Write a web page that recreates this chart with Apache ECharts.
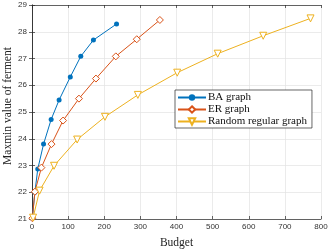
<!DOCTYPE html>
<html><head><meta charset="utf-8">
<script src="https://cdn.jsdelivr.net/npm/echarts@6/dist/echarts.min.js"></script>
<style>html,body{margin:0;padding:0;background:#fff}#c{width:332px;height:249px}</style>
</head><body><div id="c"></div>
<script>
var baX = [1, 8, 16, 32, 53, 75, 106, 135, 170, 234];
var baY = [21.03, 22.0, 22.87, 23.8, 24.72, 25.45, 26.31, 27.08, 27.69, 28.29];
var erX = [1, 8, 26, 54, 86, 130, 177, 232, 290, 354];
var erY = [21.03, 22.02, 22.92, 23.8, 24.68, 25.5, 26.25, 27.08, 27.72, 28.44];
var rrX = [3, 21, 61, 125, 202, 293, 402, 514, 640, 771];
var rrY = [21.05, 22.06, 22.99, 23.97, 24.82, 25.64, 26.47, 27.18, 27.85, 28.5];
var names = ['BA graph', 'ER graph', 'Random regular graph'];
var xTicks = [0, 100, 200, 300, 400, 500, 600, 700, 800];
var yTicks = [21, 22, 23, 24, 25, 26, 27, 28, 29];

function pairs(xs, ys) { return xs.map(function (x, i) { return [x, ys[i]]; }); }
var axisCol = '#262626';
var serif = 'Liberation Serif';
var chart = echarts.init(document.getElementById('c'), null, {renderer: 'canvas'});
var tickCommon = {inside: true, length: 3, lineStyle: {color: axisCol, width: 0.7}};
chart.setOption({
  animation: false,
  grid: {left: 32, right: 11, top: 5, bottom: 30, containLabel: false, outerBoundsMode: 'none'},
  xAxis: [{
    type: 'value', min: xTicks[0], max: xTicks[xTicks.length - 1], interval: 100,
    name: 'Budget', nameLocation: 'middle', nameGap: 18,
    nameTextStyle: {fontFamily: serif, fontSize: 11.5, color: '#222'},
    axisLine: {lineStyle: {color: axisCol, width: 0.7}},
    axisTick: tickCommon,
    axisLabel: {fontFamily: 'Liberation Sans', fontSize: 8, color: '#333', margin: 4},
    splitLine: {lineStyle: {color: '#e3e3e3', width: 0.7}}
  }, {
    type: 'value', position: 'top', min: 0, max: 800, interval: 100,
    axisLine: {show: true, lineStyle: {color: axisCol, width: 0.7}},
    axisTick: tickCommon, axisLabel: {show: false}, splitLine: {show: false}
  }],
  yAxis: [{
    type: 'value', min: yTicks[0], max: yTicks[yTicks.length - 1], interval: 1,
    axisLine: {show: true, lineStyle: {color: axisCol, width: 0.7}},
    axisTick: tickCommon,
    axisLabel: {fontFamily: 'Liberation Sans', fontSize: 8, color: '#333', margin: 5},
    splitLine: {lineStyle: {color: '#e3e3e3', width: 0.7}}
  }, {
    type: 'value', position: 'right', min: 21, max: 29, interval: 1,
    axisLine: {show: true, lineStyle: {color: axisCol, width: 0.7}},
    axisTick: tickCommon, axisLabel: {show: false}, splitLine: {show: false}
  }],
  graphic: [{
    type: 'text', x: 8, y: 106, rotation: Math.PI / 2,
    style: {text: 'Maxmin value of ferment', fontFamily: serif, fontSize: 11.5, fill: '#222',
      align: 'center', verticalAlign: 'middle'}
  }],
  legend: {
    left: 175, top: 90, orient: 'vertical',
    backgroundColor: '#fff', borderColor: axisCol, borderWidth: 0.7,
    padding: [2, 5, 1, 2], itemGap: 1, itemWidth: 28, itemHeight: 8,
    textStyle: {fontFamily: serif, fontSize: 11, color: '#111', padding: [0, 0, 0, -3]},
    data: names
  },
  series: [{
    name: names[0], type: 'line', data: pairs(baX, baY),
    symbol: 'circle', symbolSize: 5,
    lineStyle: {color: '#0072BD', width: 1}, itemStyle: {color: '#0072BD'}
  }, {
    name: names[1], type: 'line', data: pairs(erX, erY),
    symbol: 'diamond', symbolSize: 7,
    lineStyle: {color: '#D95319', width: 1},
    itemStyle: {color: '#fff', borderColor: '#D95319', borderWidth: 1}
  }, {
    name: names[2], type: 'line', data: pairs(rrX, rrY),
    symbol: 'triangle', symbolRotate: 180, symbolSize: 7,
    lineStyle: {color: '#EDB120', width: 1},
    itemStyle: {color: '#fff', borderColor: '#EDB120', borderWidth: 1}
  }]
});
</script></body></html>
